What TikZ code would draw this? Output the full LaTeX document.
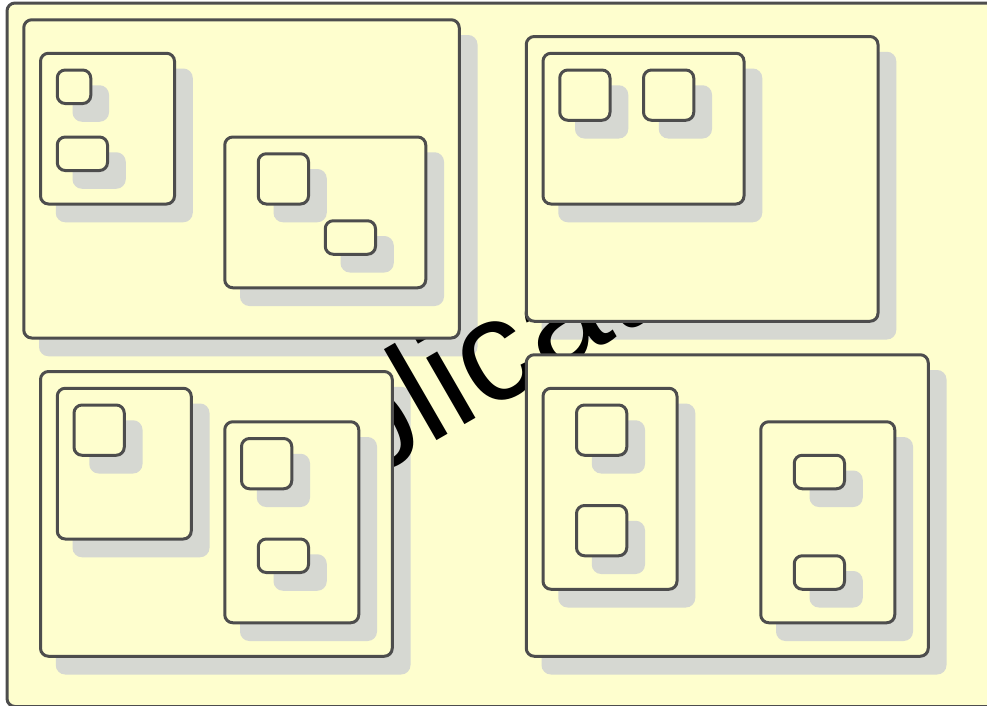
\documentclass[tikz,border=0pt]{standalone}
\usepackage{fontspec}
\setmainfont{Liberation Sans}
\definecolor{boxfill}{RGB}{254,254,206}
\definecolor{boxline}{RGB}{77,77,77}
\definecolor{shadowc}{RGB}{214,216,210}
\newcommand\shadowbox[4]{\filldraw[shadowst] ($(#1,#2)+(1,1)$) rectangle ($(#3,#4)+(1,1)$);}
\newcommand\plainbox[4]{\filldraw[boxst] (#1,#2) rectangle (#3,#4);}
\newcommand\fullbox[4]{\shadowbox{#1}{#2}{#3}{#4}\plainbox{#1}{#2}{#3}{#4}}
\usetikzlibrary{calc}
\begin{document}
\begin{tikzpicture}[x=16.75pt,y=-16.75pt,
  boxst/.style={fill=boxfill,draw=boxline,line width=3pt,rounded corners=8pt},
  shadowst/.style={fill=shadowc,draw=shadowc,line width=3pt,rounded corners=8pt}]
\useasboundingbox (-0.41791,-0.17910) rectangle (58.5075,41.9104);
\clip (-0.41791,-0.17910) rectangle (58.5075,41.9104);
% outer frame
\plainbox{0}{0}{60}{42}
% top-level shadows
\shadowbox{1}{1}{27}{20}
\shadowbox{31}{2}{52}{19}
\shadowbox{2}{22}{23}{39}
\shadowbox{31}{21}{55}{39}
% watermark text
\node[rotate=30, font=\fontsize{145}{150}\selectfont, inner sep=0pt] (title)
  at ({(494-7)/16.75},{(365-3)/16.75}) {Application};
% box A
\plainbox{1}{1}{27}{20}
\fullbox{2}{3}{10}{12}
\fullbox{3}{4}{5}{6}
\fullbox{3}{8}{6}{10}
\fullbox{13}{8}{25}{17}
\fullbox{15}{9}{18}{12}
\fullbox{19}{13}{22}{15}
% box B
\plainbox{31}{2}{52}{19}
\fullbox{32}{3}{44}{12}
\fullbox{33}{4}{36}{7}
\fullbox{38}{4}{41}{7}
% box C
\plainbox{2}{22}{23}{39}
\fullbox{3}{23}{11}{32}
\fullbox{4}{24}{7}{27}
\fullbox{13}{25}{21}{37}
\fullbox{14}{26}{17}{29}
\fullbox{15}{32}{18}{34}
% box D
\plainbox{31}{21}{55}{39}
\fullbox{32}{23}{40}{35}
\fullbox{34}{24}{37}{27}
\fullbox{34}{30}{37}{33}
\fullbox{45}{25}{53}{37}
\fullbox{47}{27}{50}{29}
\fullbox{47}{33}{50}{35}
\end{tikzpicture}
\end{document}
